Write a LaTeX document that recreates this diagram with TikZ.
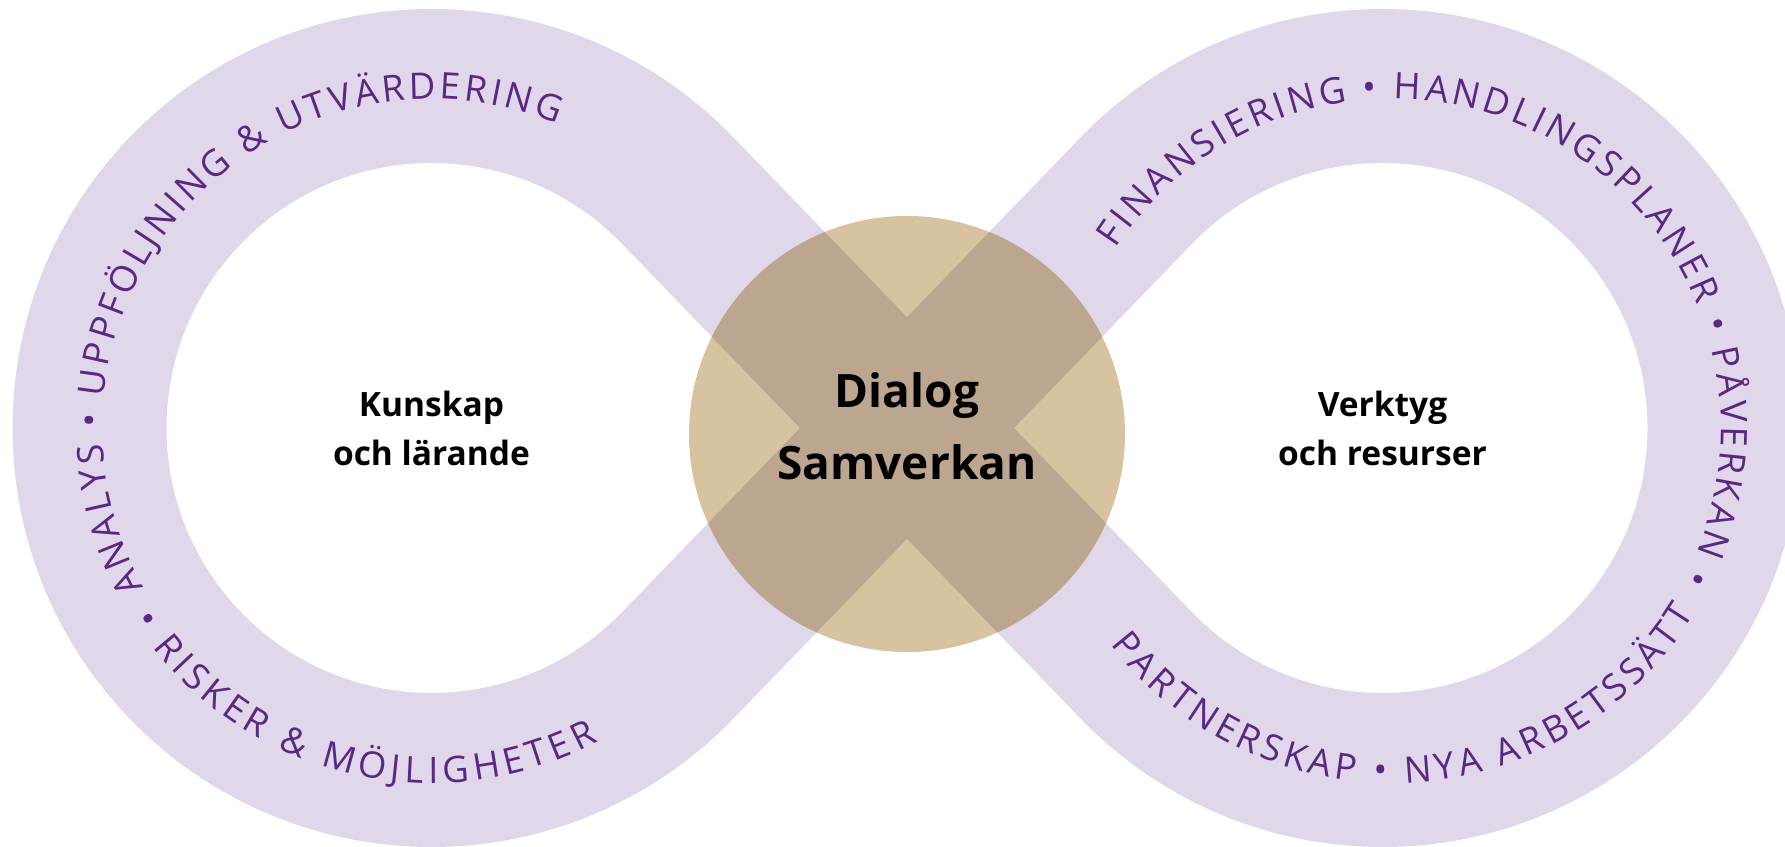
\documentclass[tikz,border=0pt]{standalone}
\usepackage{fontspec}
\setmainfont{Open Sans}
\usetikzlibrary{decorations.text}

\definecolor{band}{HTML}{E0D8EA}
\definecolor{disc}{HTML}{D8C3A0}
\definecolor{cross}{HTML}{BCA690}
\definecolor{ringtext}{HTML}{5A2882}

% the figure-eight band, centre line only
\newcommand\eightpath{(X) -- ([shift={(44:342)}]Lc) arc[start angle=44,end angle=316,radius=342pt]
  -- (X) -- ([shift={(136:342)}]Rc) arc[start angle=136,end angle=-136,radius=342pt] -- cycle}

\begin{document}
\begin{tikzpicture}[x=1pt,y=1pt,
    loop/.style={draw=band,line width=154pt,line join=round},
    ringlabel/.style={decorate,decoration={text along path,text align=fit to path,
      text={|\color{ringtext}\fontsize{36.5}{36.5}\selectfont|#1}}},
    title/.style={align=center,font=\bfseries\fontsize{33.5}{49}\selectfont}]
  \fill[white] (0,0) rectangle (1785,846);
  \useasboundingbox (0,0) rectangle (1785,846);

  \coordinate (X) at (907,418);
  \coordinate (Lc) at (431.5,418);
  \coordinate (Rc) at (1382.5,418);
  \coordinate (Rt) at (1392,418);
  \coordinate (O) at (907,412);

  \draw[loop] \eightpath;
  \fill[disc] (O) circle[radius=218pt];
  \begin{scope}
    \clip (O) circle[radius=218pt];
    \draw[loop,draw=cross] \eightpath;
  \end{scope}

  % texts round the left loop
  \path[ringlabel={ANALYS • UPPFÖLJNING {\&} UTVÄRDERING}]
    ([shift={(209:329)}]Lc) arc[start angle=209,end angle=67.5,radius=329pt];
  \path[ringlabel={• RISKER {\&} MÖJLIGHETER}]
    ([shift={(212.8:355)}]Lc) arc[start angle=212.8,end angle=298,radius=355pt];
  % texts round the right loop
  \path[ringlabel={FINANSIERING • HANDLINGSPLANER • PÅVERKAN •}]
    ([shift={(147:329)}]Rt) arc[start angle=147,end angle=-27.5,radius=329pt];
  \path[ringlabel={PARTNERSKAP • NYA ARBETSSÄTT}]
    ([shift={(217.5:355)}]Rt) arc[start angle=217.5,end angle=328.5,radius=355pt];

  \node[title] (kunskap) at (Lc) {Kunskap\\och lärande};
  \node[title] (verktyg) at (Rc) {Verktyg\\och resurser};
  \node[title,font=\bfseries\fontsize{46}{72}\selectfont] (dialog) at (907,420) {Dialog\\Samverkan};
\end{tikzpicture}
\end{document}
